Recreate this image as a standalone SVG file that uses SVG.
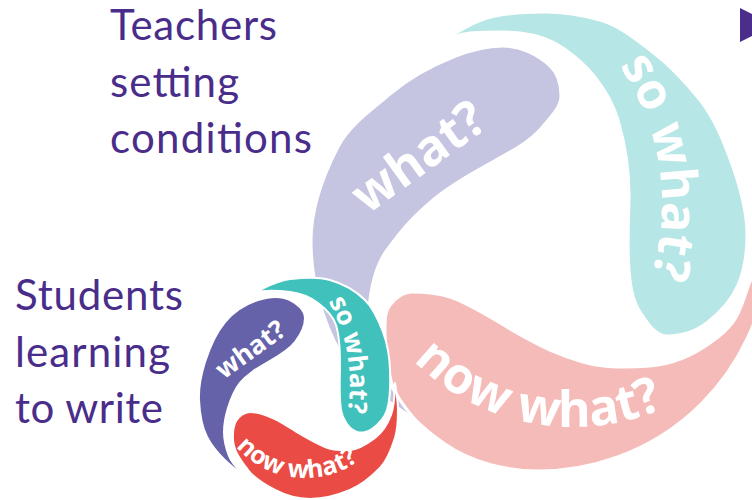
<svg xmlns="http://www.w3.org/2000/svg" width="752" height="500" viewBox="0 0 752 500">
<defs>
<style>
.lbl{font-family:Lato,"Liberation Sans",sans-serif;font-size:42px;fill:#4a2d8a}
.bw{font-family:"Open Sans","DejaVu Sans",sans-serif;font-weight:700;font-size:50px;fill:#fff}
.sw{font-family:"Open Sans","DejaVu Sans",sans-serif;font-weight:700;font-size:26px;fill:#fff}
.bs{stroke:#fff;stroke-width:3;stroke-linejoin:round}
.ss{stroke:#fff;stroke-width:2;stroke-linejoin:round}
</style>
<path id="pBigSo" d="M 537 -11.5 A 250 250 0 0 1 603.5 365.7"/>
<path id="pBigNow" d="M 361.6 279 A 225 225 0 0 0 745.4 346.6"/>
<path id="pSmSo" d="M 265 236.8 A 170 170 0 0 1 310.2 493.3"/>
<path id="pSmNow" d="M 214.4 402 A 92 92 0 0 0 395.6 402"/>
</defs>
<rect width="752" height="500" fill="#fff"/>

<g id="label-teachers">
<text class="lbl" x="110" y="40" textLength="167">Teachers</text>
<text class="lbl" x="110" y="97" textLength="129">setting</text>
<text class="lbl" x="110" y="153" textLength="202">conditions</text>
</g>
<g id="label-students">
<text class="lbl" x="15" y="310" textLength="168">Students</text>
<text class="lbl" x="15" y="367" textLength="155">learning</text>
<text class="lbl" x="15" y="423" textLength="148">to write</text>
</g>

<g id="big-what">
<path class="bs" fill="#c5c4e1" d="M 424 427 C 395.5 404.4 359.8 386.6 341.5 355 C 321.9 321 311 280.3 311 241 C 311 208.5 322.8 176.1 337.8 147.2 C 349.4 124.7 372 109.6 391.2 93.2 C 409.4 77.7 431 65.8 453.2 57 C 469 50.7 486 46 503 46 C 520 46 537.8 54.3 550 66 C 557.7 73.4 561 85.3 561 96 C 561 106.7 551.6 115.7 545 124 C 537.4 133.6 527.6 141.7 517 148 C 502.5 156.6 487.5 164.4 473 173 C 459.2 181.2 445.2 189.5 433 200 C 421.1 210.1 409.7 220.8 400 233 C 394.1 240.4 387.8 247.7 383 256 C 377.5 265.6 374.2 276.2 372 287 C 369.8 297.8 368.5 309 369 320 C 369.7 334.4 373.2 348.8 379 362 C 384.5 374.6 390.8 387 399 398 C 406.7 408.2 414.8 418.2 424 427 Z"/>
<text class="bw" transform="translate(418,156) rotate(-36)" text-anchor="middle" y="18">what?</text>
</g>
<g id="big-so-what">
<path class="bs" fill="#b6e6e5" d="M 433 47 C 450.7 37 467.4 23.5 487 18 C 505.6 12.8 525.6 12 545 12 C 563.5 12 582.2 15.1 600 20 C 618.7 25.2 634.5 38.4 650 50 C 668.9 64.2 685.4 81.6 700 100 C 715.4 119.4 724.8 143.6 733 167 C 740.6 188.7 747 211.9 747 235 C 747 251.9 744.8 269.5 738 285 C 731.6 299.6 720.4 312.1 708 322 C 696.8 330.9 681.4 336 667 336 C 655 336 646.6 322 640 312 C 632 300 630.2 284.5 629 270 C 627.1 246.7 628.5 223.3 629 200 C 629.5 173.1 625.5 145.8 618 120 C 613.3 104 604.4 89 594 76 C 585.4 65.2 574.4 55.9 563 48 C 550.5 39.3 535 34.8 520 33 C 503.5 31 486.7 32 470 33 C 456.8 33.8 444.9 41.3 433 47 Z"/>
<text class="bw" text-anchor="middle"><textPath href="#pBigSo" startOffset="223.8">so what?</textPath></text>
</g>
<g id="big-now-what">
<path class="bs" fill="#f5bbb8" d="M 764 228 C 758.4 245.7 757.4 264.9 750 282 C 744.2 295.3 741.7 310.4 733 322 C 726.8 330.3 718.5 337.1 710 343 C 701.6 348.9 692.6 354.3 683 358 C 672.5 362.1 661.3 365.1 650 366 C 639 366.9 628 367.3 617 367 C 605.5 366.7 594 365.1 583 362 C 571.8 358.8 560.8 354.7 550 350 C 538.6 345 527.8 339.2 517 333 C 505.6 326.4 494.4 319.4 483 313 C 472.4 307 461.6 300.7 450 297 C 437.8 293.2 424.8 292 412 292 C 403.5 292 395.1 298.2 390 305 C 384.9 311.8 385 321.5 385 330 C 385 347.1 386.7 364.4 391 381 C 394.4 394.2 403.3 405.5 412 416 C 421.2 427.1 433.2 435.8 445 444 C 471.7 462.6 506.4 471 539 471 C 565.7 471 592.6 466.1 617.7 457 C 648.9 445.6 678.1 427.1 701.6 403.6 C 720.5 384.7 736.2 362.2 747.5 338 C 761.5 307.9 770 274.2 770 241 C 770 236.2 765.9 232.4 764 228 Z"/>
<text class="bw" text-anchor="middle"><textPath href="#pBigNow" startOffset="232.8">now what?</textPath></text>
</g>

<g id="small-what">
<path class="ss" fill="#6662aa" d="M 246 478 C 231.3 466.3 215.5 453.8 207 437 C 201.3 425.8 199.6 412.6 199 400 C 198.4 387.2 201.2 374.2 205 362 C 209.5 347.8 215.5 333.5 225 322 C 233.4 311.8 245.5 304 258 300 C 268.2 296.8 280.4 295.4 290 300 C 297 303.4 305 310.2 305 318 C 305 326.7 300.4 335.2 295 342 C 288.1 350.7 277.7 356.4 268 362 C 257.8 367.9 247.3 373.9 240 383 C 234.3 390.2 230.8 399.3 228 408 C 225.6 415.7 224 423.9 224 432 C 224 440.2 226.1 448.3 229 456 C 232.3 464.7 240 470.9 246 478 Z"/>
<text class="sw" transform="translate(250,349) rotate(-36)" text-anchor="middle" y="9.5">what?</text>
</g>
<g id="small-so-what">
<path class="ss" fill="#40c1bc" d="M 253 293 C 265.1 287.7 276.9 280.3 290 279 C 303.2 277.7 317.2 276.4 330 280 C 342.9 283.6 355.4 290.6 365 300 C 373.8 308.5 378.7 320.5 383 332 C 387.5 344.1 389.6 357.1 390 370 C 390.4 383.4 391 397.3 387 410 C 384.6 417.7 378.5 424.1 372 429 C 367.9 432.1 361.6 433.5 357 432 C 348.8 429.3 342.4 419 341 410 C 338.7 395.1 340 380 340 365 C 340 351.6 340 337.7 336 325 C 333.1 316 325.6 308.7 318 303 C 310 297 299.9 293.2 290 292 C 277.8 290.5 264.7 289.3 253 293 Z"/>
<text class="sw" text-anchor="middle"><textPath href="#pSmSo" startOffset="148.9">so what?</textPath></text>
</g>
<g id="small-now-what">
<path class="ss" fill="#ea4b44" d="M 395 383 C 394.5 393.7 394.7 404.9 391 415 C 387.7 423.7 382.4 432.4 375 438 C 367.6 443.5 359.2 449.5 350 450 C 341.6 450.4 332.8 450 325 447 C 316.3 443.6 308.2 438.7 300 434 C 291.6 429.1 283.7 423.2 275 419 C 267.2 415.3 258.7 412 250 412 C 244.5 412 238.8 416.2 236 421 C 232.8 426.6 232.7 433.6 233 440 C 233.6 451.2 241.3 461 248 470 C 254.7 479 265.1 484.7 275 490 C 285.6 495.6 298 499 310 499 C 323.7 499 337.4 495.3 350 490 C 361.4 485.2 371.3 476.8 380 468 C 387.8 460 391.6 448.6 395 438 C 397.8 429.1 398 419.4 398 410 C 398 400.9 396.4 392 395 383 Z"/>
<text class="sw" text-anchor="middle" style="font-size:25px"><textPath href="#pSmNow" startOffset="118">now what?</textPath></text>
</g>

<g id="play-marker">
<polygon points="740,8 774,25 740,42" fill="#4b2d8b"/>
</g>
<g id="connectors"/>
</svg>
